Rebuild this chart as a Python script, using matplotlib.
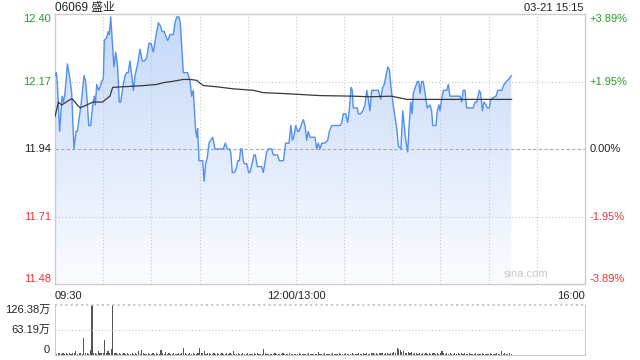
import numpy as np
import matplotlib
matplotlib.use("Agg")
import matplotlib.pyplot as plt
from matplotlib.patches import Polygon
from matplotlib.colors import LinearSegmentedColormap

plt.rcParams['font.family'] = ['Liberation Sans', 'Noto Sans CJK SC', 'DejaVu Sans']

# minutes since 09:30 (lunch break removed, 150 = 12:00/13:00)
times = [0, 0.8, 1.4, 2.9, 4.4, 5.2, 6.2, 7.7, 9.3, 10.4, 11.8, 13.1, 13.9, 16.2, 18.1, 19.1,
         20.1, 21.0, 22.2, 23.5, 24.5, 25.1, 26.0, 27.2, 28.0, 29.1, 30.1, 30.7, 32.2, 33.2,
         33.8, 34.7, 35.5, 36.7, 37.8, 39.0, 40.0, 40.9, 42.2, 43.6, 44.6, 45.6, 46.7, 47.8,
         48.8, 49.8, 51.5, 52.9, 54.4, 55.6, 57.1, 58.5, 59.8, 61.2, 62.7, 64.3, 65.6, 66.8,
         68.1, 69.3, 70.2, 71.6, 73.7, 74.7, 75.8, 77.2, 78.0, 79.9, 82.6, 84.1, 85.1, 86.1,
         87.6, 88.4, 88.8, 89.7, 92.0, 92.8, 93.8, 94.8, 95.9, 96.9, 98.2, 99.6, 104.8, 106.0,
         107.3, 108.5, 109.4, 110.4, 111.6, 112.7, 113.8, 114.8, 115.6, 116.4, 117.2, 117.9,
         119.4, 120.6, 121.4, 122.7, 123.9, 124.7, 126.0, 128.7, 129.7, 130.9, 131.8, 132.8,
         134.9, 135.9, 138.4, 139.7, 142.2, 143.6, 145.7, 146.9, 147.8, 148.6, 149.9, 151.1,
         151.9, 153.2, 154.6, 155.7, 156.7, 157.7, 158.8, 161.9, 162.9, 163.9, 165.0, 166.1,
         168.1, 169.8, 170.8, 172.3, 177.5, 178.5, 179.5, 181.0, 182.2, 183.2, 184.3, 185.1,
         185.7, 188.2, 188.8, 190.3, 191.6, 193.0, 194.1, 195.1, 196.1, 197.2, 201.3, 202.8,
         204.0, 205.0, 206.1, 207.2, 208.2, 209.4, 210.6, 211.7, 212.8, 213.8, 215.4, 216.5,
         217.3, 218.1, 219.0, 219.6, 220.6, 221.5, 222.3, 223.1, 224.3, 225.6, 226.5, 227.3,
         228.3, 229.3, 230.4, 231.8, 233.5, 234.5, 235.2, 237.2, 238.0, 239.1, 239.7, 240.8,
         241.8, 243.9, 244.9, 245.9, 247.0, 252.2, 253.2, 254.2, 255.3, 256.3, 260.4, 261.5,
         262.6, 264.2, 265.0, 266.1, 267.1, 268.4, 269.2, 270.4, 271.3, 274.6, 275.7, 278.2,
         278.8, 279.6, 280.9, 282.9, 284.1]
prices = [12.19, 12.20, 12.17, 12.00, 12.12, 12.10, 12.13, 12.23, 12.18, 12.13, 11.94, 12.00, 12.00, 12.09, 12.19, 12.17,
          12.10, 12.02, 12.02, 12.09, 12.12, 12.09, 12.16, 12.14, 12.15, 12.17, 12.18, 12.31, 12.32, 12.34,
          12.33, 12.39, 12.32, 12.22, 12.27, 12.22, 12.10, 12.10, 12.15, 12.19, 12.20, 12.20, 12.24, 12.19,
          12.14, 12.19, 12.23, 12.28, 12.24, 12.24, 12.25, 12.30, 12.30, 12.27, 12.32, 12.37, 12.36, 12.34,
          12.34, 12.32, 12.31, 12.33, 12.33, 12.37, 12.39, 12.39, 12.37, 12.20, 12.20, 12.17, 12.12, 12.14,
          12.00, 11.98, 12.01, 11.90, 11.90, 11.83, 11.89, 11.91, 11.96, 11.97, 11.98, 11.94, 11.94, 11.96,
          11.94, 11.94, 11.93, 11.86, 11.86, 11.87, 11.90, 11.90, 11.94, 11.94, 11.90, 11.89,
          11.89, 11.86, 11.86, 11.89, 11.92, 11.92, 11.88, 11.88, 11.86, 11.90, 11.93, 11.94,
          11.94, 11.92, 11.92, 11.90, 11.90, 11.96, 11.96, 12.02, 11.97, 11.98, 12.02, 12.00,
          12.00, 12.02, 12.04, 12.02, 11.97, 12.00, 11.98, 11.98, 11.94, 11.96, 11.94, 11.96,
          11.96, 11.97, 12.00, 12.02, 12.02, 12.03, 12.06, 12.06, 12.03, 12.07, 12.15, 12.14,
          12.08, 12.08, 12.06, 12.06, 12.07, 12.09, 12.14, 12.11, 12.07, 12.14, 12.14, 12.11,
          12.15, 12.16, 12.19, 12.22, 12.21, 12.14, 12.09, 12.05, 12.01, 11.95, 11.94, 12.07,
          12.03, 11.98, 11.95, 11.93, 12.03, 12.10, 12.06, 12.13, 12.15, 12.17, 12.17, 12.13,
          12.17, 12.17, 12.13, 12.08, 12.09, 12.07, 12.02, 12.02, 12.07, 12.09, 12.07, 12.11,
          12.14, 12.14, 12.16, 12.12, 12.12, 12.12, 12.10, 12.14, 12.14, 12.08, 12.08, 12.10,
          12.10, 12.14, 12.13, 12.07, 12.10, 12.09, 12.08, 12.08, 12.11, 12.12, 12.14, 12.14,
          12.15, 12.16, 12.17, 12.18, 12.19]

# average price line
avg_times = [0, 2.1, 4.2, 9.8, 11.0, 13.9, 15.6, 19.7, 23.8, 29.7, 31.8, 34.2, 35.9, 48.8, 55.0,
             63.3, 67.4, 73.7, 79.9, 84.1, 88.2, 92.3, 100.7, 111.0, 123.5, 129.7, 142.2, 165.0,
             185.7, 196.1, 209.6, 213.8, 219.0, 284.3]
avg_prices = [12.05, 12.10, 12.09, 12.11, 12.11, 12.09, 12.08, 12.09, 12.10, 12.10, 12.11, 12.12, 12.15,
              12.154, 12.156, 12.160, 12.166, 12.171, 12.177, 12.177, 12.174, 12.156, 12.152, 12.145,
              12.140, 12.132, 12.129, 12.122, 12.120, 12.118, 12.120, 12.115, 12.109, 12.109]

# volume per minute, in 万
volumes = [5, 3, 6, 4, 3, 5, 2, 4, 3, 6, 3, 4, 5, 10, 3,
           4, 6, 3, 44, 4, 5, 3, 13, 130, 4, 5, 3, 10, 4, 6,
           4, 38, 5, 10, 6, 14, 130, 4, 5, 3, 4, 2, 3, 5, 3,
           4, 2, 3, 5, 3, 4, 2, 11, 3, 13, 4, 3, 2, 4, 3,
           2, 4, 3, 5, 3, 2, 13, 4, 3, 7, 2, 4, 3, 2, 5,
           3, 2, 4, 3, 6, 17, 4, 3, 2, 5, 3, 4, 2, 3, 4,
           17, 5, 4, 10, 3, 4, 6, 3, 2, 4, 3, 5, 2, 3, 4,
           3, 2, 4, 3, 5, 3, 10, 2, 3, 4, 2, 3, 5, 2, 3,
           4, 2, 3, 3, 5, 2, 4, 3, 2, 3, 15, 4, 3, 2, 3,
           2, 3, 4, 2, 3, 2, 3, 4, 2, 3, 2, 4, 2, 3, 2,
           3, 2, 4, 2, 3, 2, 3, 2, 4, 3, 2, 3, 2, 3, 7,
           2, 3, 2, 4, 2, 3, 2, 3, 4, 2, 3, 2, 4, 3, 2,
           3, 4, 2, 3, 2, 4, 3, 2, 3, 4, 2, 3, 5, 3, 4,
           3, 2, 4, 5, 3, 4, 3, 5, 4, 6, 3, 5, 4, 3, 5,
           6, 7, 5, 17, 14, 12, 8, 9, 6, 5, 7, 4, 7, 3, 5,
           4, 3, 5, 2, 4, 3, 4, 2, 5, 3, 4, 6, 3, 4, 3,
           5, 9, 4, 3, 5, 3, 4, 2, 3, 4, 3, 4, 2, 6, 3,
           4, 2, 3, 4, 2, 3, 2, 4, 3, 2, 3, 4, 2, 3, 2,
           3, 4, 2, 3, 2, 4, 3, 2, 9, 3, 4, 2, 3, 5, 3]

price_ticks = [12.40, 12.17, 11.94, 11.71, 11.48]
pct_labels = ['+3.89%', '+1.95%', '0.00%', '-1.95%', '-3.89%']
price_labels = ['12.40', '12.17', '11.94', '11.71', '11.48']
vol_ticks = [126.38, 63.19, 0]
vol_labels = ['126.38万', '63.19万', '0']
time_labels = ['09:30', '12:00/13:00', '16:00']

green = '#22a022'
red = '#ee3333'
border = '#cccccc'
fs = 8

fig = plt.figure(figsize=(6.4, 3.6), dpi=100)
ax = fig.add_axes([55/640, 76/360, 530/640, 270/360])
axv = fig.add_axes([55/640, 5/360, 530/640, 50/360])

# gradient fill under the price line
ymin, ymax = price_ticks[-1], price_ticks[0]
verts = list(zip(times, prices)) + [(times[-1], ymin), (times[0], ymin)]
poly = Polygon(verts, closed=True, facecolor='none', edgecolor='none')
ax.add_patch(poly)
cmap = LinearSegmentedColormap.from_list('fill', ['#fbfcff', '#c4d8f8'])
grad = np.linspace(0, 1, 256).reshape(-1, 1)
im = ax.imshow(grad, extent=[0, 330, ymin, ymax], origin='lower', aspect='auto',
               cmap=cmap, zorder=1)
im.set_clip_path(poly)

ax.plot(times, prices, color='#5090f0', lw=1, zorder=3)
ax.plot(avg_times, avg_prices, color='#383838', lw=0.9, zorder=4)

ax.set_xlim(0, 330)
ax.set_ylim(ymin, ymax)

# grid
for t in range(30, 330, 30):
    ax.axvline(t, color='#c8c8c8', lw=0.8, ls=(0, (1, 2)), zorder=2)
for p in price_ticks[1:-1]:
    if p == 11.94:
        ax.axhline(p, color='#aaaaaa', lw=0.8, ls=(0, (3, 2)), zorder=2)
    else:
        ax.axhline(p, color='#c8c8c8', lw=0.8, ls=(0, (1, 2)), zorder=2)

ax.set_xticks([])
ax.set_yticks([])
for s in ax.spines.values():
    s.set_color(border)
    s.set_linewidth(1)

# price / percent labels
colors = [green, green, '#222222', red, red]
vas = ['top', 'center', 'center', 'center', 'bottom']
for p, lab, pct, c, va in zip(price_ticks, price_labels, pct_labels, colors, vas):
    ax.text(-0.007, p, lab, transform=ax.get_yaxis_transform(), ha='right', va=va,
            color=c, fontsize=fs)
    ax.text(1.009, p, pct, transform=ax.get_yaxis_transform(), ha='left', va=va,
            color=c, fontsize=fs)

# time labels
ax.text(0, -0.025, time_labels[0], transform=ax.transAxes, ha='left', va='top', fontsize=fs, color='#222222')
ax.text(150/330, -0.025, time_labels[1], transform=ax.transAxes, ha='center', va='top', fontsize=fs, color='#222222')
ax.text(1, -0.025, time_labels[2], transform=ax.transAxes, ha='right', va='top', fontsize=fs, color='#222222')

# title and time stamp
fig.text(55/640, 352/360, '06069 盛业', ha='left', va='center', fontsize=8.5, color='#222222')
fig.text(583/640, 352/360, '03-21 15:15', ha='right', va='center', fontsize=fs, color='#222222')
ax.text(0.93, 0.02, 'sina.com', transform=ax.transAxes, ha='right', va='bottom',
        fontsize=fs, color='#c8c8c8')

# volume panel
axv.bar(np.arange(len(volumes)), volumes, width=0.7, color='#555555', linewidth=0)
axv.set_xlim(0, 330)
axv.set_ylim(0, vol_ticks[0])
axv.axhline(vol_ticks[1], color='#c8c8c8', lw=0.8, ls=(0, (1, 2)))
axv.axhline(vol_ticks[0], color='#c8c8c8', lw=1.5, ls=(0, (1, 1.5)), clip_on=False)
axv.set_xticks([])
axv.set_yticks([])
axv.spines['top'].set_visible(False)
for k in ['left', 'right', 'bottom']:
    axv.spines[k].set_color(border)
for v, lab, va in zip(vol_ticks, vol_labels, ['top', 'center', 'bottom']):
    axv.text(-0.009, v, lab, transform=axv.get_yaxis_transform(), ha='right', va=va,
             fontsize=fs, color='#222222')

fig.savefig('out.png', dpi=100)
